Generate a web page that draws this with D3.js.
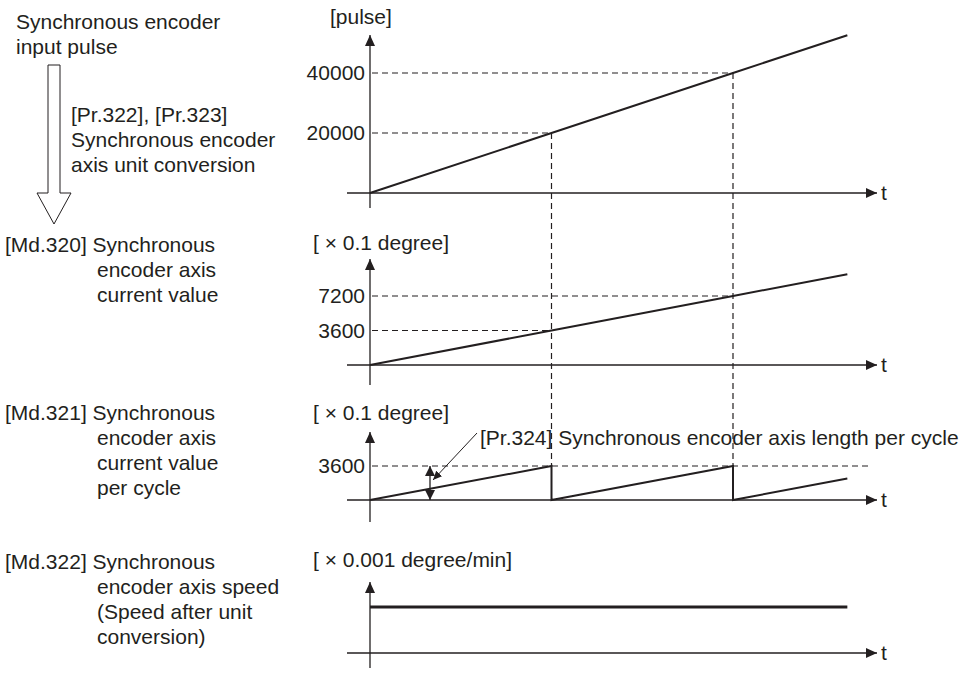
<!DOCTYPE html>
<html>
<head>
  <meta charset="utf-8">
  <title>Synchronous encoder axis</title>
  <script src="https://d3js.org/d3.v7.min.js"></script>
  <style>
    body { margin: 0; background: #fff; }
    svg text { font-family: "Liberation Sans", Arial, sans-serif; font-size: 21px; fill: #231f20; }
  </style>
</head>
<body>
<div id="chart"></div>
<script>
// time marks (t = 1 and t = 2 are the cycle points)
var markTimes = [1, 2];

// [pulse] input
var pulseTimes = [0, 1, 2, 2.63];
var pulseValues = [0, 20000, 40000, 52600];
var pulseTicks = [20000, 40000];

// [Md.320] current value
var degTimes = [0, 1, 2, 2.63];
var degValues = [0, 3600, 7200, 9470];
var degTicks = [3600, 7200];

// [Md.321] current value per cycle
var cycleTimes = [0, 1, 1, 2, 2, 2.63];
var cycleValues = [0, 3600, 0, 3600, 0, 2270];
var cycleTicks = [3600];

// [Md.322] speed (constant)
var speedTimes = [0, 2.63];
var speedValues = [1, 1];

var width = 969, height = 673;
var ink = "#231f20";

var svg = d3.select("#chart").append("svg")
    .attr("width", width)
    .attr("height", height);

// shared time scale
var x = d3.scaleLinear().domain([0, 2]).range([370, 733]);

// panel layout
var panels = [
  {times: pulseTimes, values: pulseValues, ticks: pulseTicks, max: 40000, base: 193, top: 73,
   tip: 35, bottom: 208, unit: "[pulse]", unitX: 330, unitY: 24},
  {times: degTimes, values: degValues, ticks: degTicks, max: 7200, base: 365, top: 296,
   tip: 259, bottom: 385, unit: "[ \u00d7 0.1 degree]", unitX: 313, unitY: 250},
  {times: cycleTimes, values: cycleValues, ticks: cycleTicks, max: 3600, base: 500, top: 466,
   tip: 432, bottom: 522, unit: "[ \u00d7 0.1 degree]", unitX: 313, unitY: 420},
  {times: speedTimes, values: speedValues, ticks: [], max: 1, base: 653, top: 607,
   tip: 582, bottom: 668, unit: "[ \u00d7 0.001 degree/min]", unitX: 313, unitY: 567}
];
panels.forEach(function(p) {
  p.y = d3.scaleLinear().domain([0, p.max]).range([p.base, p.top]);
});

// arrow heads
var defs = svg.append("defs");
function marker(id, len, wid) {
  defs.append("marker")
      .attr("id", id)
      .attr("markerUnits", "userSpaceOnUse")
      .attr("markerWidth", len + 1).attr("markerHeight", wid)
      .attr("refX", len).attr("refY", wid / 2)
      .attr("orient", "auto-start-reverse")
    .append("path")
      .attr("d", "M0,0 L" + len + "," + (wid / 2) + " L0," + wid + " Z")
      .attr("fill", ink);
}
marker("head", 11, 10);
marker("dbl", 10, 10);
marker("small", 9, 8);

var line = d3.line();

// dashed guides
var guides = svg.append("g")
    .attr("stroke", ink)
    .attr("stroke-width", 1.2)
    .attr("stroke-dasharray", "6,4")
    .attr("fill", "none");

[panels[0], panels[1]].forEach(function(p) {
  p.ticks.forEach(function(v, i) {
    guides.append("line")
      .attr("x1", x(0) + 2).attr("x2", x(markTimes[i]))
      .attr("y1", p.y(v)).attr("y2", p.y(v));
  });
});
guides.append("line")
  .attr("x1", x(0) + 2).attr("x2", 870)
  .attr("y1", panels[2].y(3600)).attr("y2", panels[2].y(3600));
markTimes.forEach(function(t, i) {
  guides.append("line")
    .attr("x1", x(t)).attr("x2", x(t))
    .attr("y1", panels[0].y(pulseTicks[i])).attr("y2", panels[2].y(3600));
});

// axes and traces
panels.forEach(function(p) {
  var g = svg.append("g");

  // x axis with arrow
  g.append("line")
    .attr("x1", 347).attr("x2", 877)
    .attr("y1", p.base).attr("y2", p.base)
    .attr("stroke", ink).attr("stroke-width", 1.3)
    .attr("marker-end", "url(#head)");
  g.append("text")
    .attr("x", 881).attr("y", p.base + 7)
    .text("t");

  // y axis with arrow
  g.append("line")
    .attr("x1", x(0)).attr("x2", x(0))
    .attr("y1", p.bottom).attr("y2", p.tip)
    .attr("stroke", ink).attr("stroke-width", 1.3)
    .attr("marker-end", "url(#head)");

  // tick labels from the axis generator
  var ax = g.append("g")
    .attr("transform", "translate(" + x(0) + ",0)")
    .call(d3.axisLeft(p.y).tickValues(p.ticks).tickSize(0).tickPadding(5).tickFormat(d3.format("d")));
  ax.select(".domain").remove();
  ax.selectAll("text")
    .attr("font-family", "Liberation Sans, Arial, sans-serif")
    .attr("font-size", 21)
    .attr("fill", ink);

  // unit label
  g.append("text")
    .attr("x", p.unitX).attr("y", p.unitY)
    .text(p.unit);

  // trace
  var pts = p.times.map(function(t, i) { return [x(t), p.y(p.values[i])]; });
  g.append("path")
    .attr("d", line(pts))
    .attr("fill", "none")
    .attr("stroke", ink)
    .attr("stroke-width", p === panels[3] ? 3 : 2);
});

// [Pr.324] length per cycle marker
var p3 = panels[2];
svg.append("line")
  .attr("x1", 430).attr("x2", 430)
  .attr("y1", p3.y(0)).attr("y2", p3.y(3600))
  .attr("stroke", ink).attr("stroke-width", 1.3)
  .attr("marker-start", "url(#dbl)")
  .attr("marker-end", "url(#dbl)");
svg.append("line")
  .attr("x1", 477).attr("y1", 433)
  .attr("x2", 433).attr("y2", 480)
  .attr("stroke", ink).attr("stroke-width", 1)
  .attr("marker-end", "url(#small)");
svg.append("text")
  .attr("x", 480).attr("y", 445)
  .text("[Pr.324] Synchronous encoder axis length per cycle");

// hollow conversion arrow
svg.append("path")
  .attr("d", "M48,65 L60,65 L60,193 L71,193 L54,224 L37,193 L48,193 Z")
  .attr("fill", "#fff")
  .attr("stroke", ink)
  .attr("stroke-width", 1);

// left labels
function block(lines, x0, indent, y0, step) {
  lines.forEach(function(s, i) {
    svg.append("text")
      .attr("x", i === 0 ? x0 : indent)
      .attr("y", y0 + i * step)
      .text(s);
  });
}
block(["Synchronous encoder", "input pulse"], 16, 16, 29, 25);
block(["[Pr.322], [Pr.323]", "Synchronous encoder", "axis unit conversion"], 71, 71, 122, 25);
block(["[Md.320] Synchronous", "encoder axis", "current value"], 5, 97, 252, 25);
block(["[Md.321] Synchronous", "encoder axis", "current value", "per cycle"], 5, 97, 420, 25);
block(["[Md.322] Synchronous", "encoder axis speed", "(Speed after unit", "conversion)"], 5, 97, 569, 25);
</script>
</body>
</html>
